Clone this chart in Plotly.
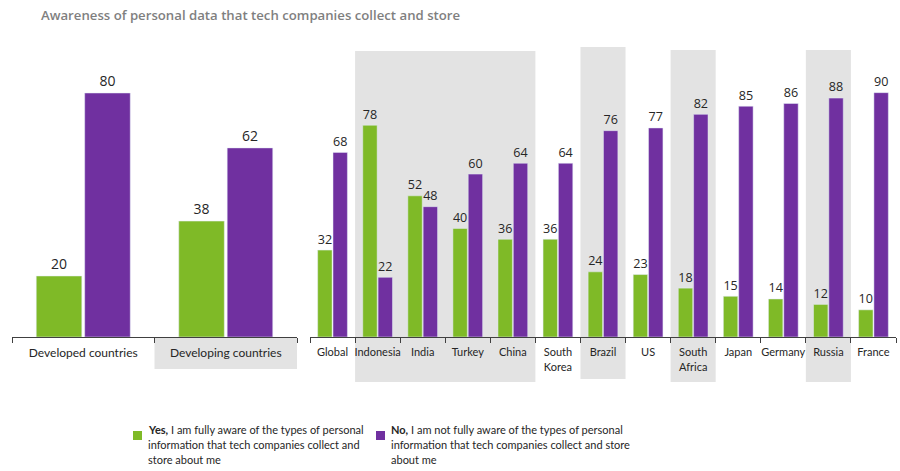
import plotly.graph_objects as go

# ---- data ----
group_cats = ["Developed countries", "Developing countries"]
group_yes = [20, 38]
group_no = [80, 62]

country_cats = ["Global", "Indonesia", "India", "Turkey", "China", "South<br>Korea",
                "Brazil", "US", "South<br>Africa", "Japan", "Germany", "Russia", "France"]
country_yes = [32, 78, 52, 40, 36, 36, 24, 23, 18, 15, 14, 12, 10]
country_no = [68, 22, 48, 60, 64, 64, 76, 77, 82, 85, 86, 88, 90]

title_text = "Awareness of personal data that tech companies collect and store"
yes_lines = ["<b>Yes,</b> I am fully aware of the types of personal",
             "information that tech companies collect and",
             "store about me"]
no_lines = ["<b>No,</b> I am not fully aware of the types of personal",
            "information that tech companies collect and store",
            "about me"]

GREEN = "#7fba27"
PURPLE = "#7030a0"
GRAY = "#e3e3e3"
TXT = "#262626"
FONT = "Open Sans"
FONT2 = "Lato"

W, H = 900, 471

def px_y(y):
    return (H - y) / H

def px_x(x):
    return x / W

fig = go.Figure()

bar_common = dict(texttemplate="%{y}", textposition="outside", cliponaxis=False,
                  textfont=dict(size=14, color=TXT, family=FONT), showlegend=False,
                  hoverinfo="skip")

fig.add_trace(go.Bar(x=group_cats, y=group_yes, marker_color=GREEN, xaxis="x", yaxis="y", **bar_common))
fig.add_trace(go.Bar(x=group_cats, y=group_no, marker_color=PURPLE, xaxis="x", yaxis="y", **bar_common))
fig.add_trace(go.Bar(x=country_cats, y=country_yes, marker_color=GREEN, xaxis="x2", yaxis="y2", **bar_common))
fig.add_trace(go.Bar(x=country_cats, y=country_no, marker_color=PURPLE, xaxis="x2", yaxis="y2", **bar_common))

ydom = [px_y(337), px_y(40)]
xcommon = dict(type="category", showline=True, linecolor="#404040", linewidth=1,
               ticks="outside", ticklen=5, tickcolor="#404040", tickson="boundaries",
               showgrid=False, zeroline=False, fixedrange=True, tickangle=0,
               ticklabelstandoff=5)

fig.update_layout(
    width=W, height=H,
    margin=dict(l=0, r=0, t=0, b=0),
    paper_bgcolor="white",
    plot_bgcolor="rgba(0,0,0,0)",
    barmode="group", bargap=0.32, bargroupgap=0.06,
    font=dict(family=FONT, color=TXT),
    xaxis=dict(domain=[px_x(12), px_x(297)], tickfont=dict(size=12, color=TXT, family=FONT2), **xcommon),
    xaxis2=dict(domain=[px_x(310), px_x(896)], tickfont=dict(size=11, color=TXT, family=FONT2), **xcommon),
    yaxis=dict(domain=ydom, range=[0, 297 / 3.05], visible=False, anchor="x", fixedrange=True),
    yaxis2=dict(domain=ydom, range=[0, 297 / 2.715], visible=False, anchor="x2", fixedrange=True),
)
fig.layout.xaxis.anchor = "y"
fig.layout.xaxis2.anchor = "y2"

shapes = []
# developing countries label box
shapes.append(dict(type="rect", xref="x", yref="paper", x0=0.5, x1=1.5,
                   y0=px_y(369), y1=px_y(337), fillcolor=GRAY, line_width=0, layer="below"))
# highlighted country bands
for (a, b, top, bot) in [(1, 4, 51, 382), (6, 6, 47, 379), (8, 8, 50, 382), (11, 11, 50, 382)]:
    shapes.append(dict(type="rect", xref="x2", yref="paper", x0=a - 0.5, x1=b + 0.5,
                       y0=px_y(bot), y1=px_y(top), fillcolor=GRAY, line_width=0, layer="below"))
# legend squares
shapes.append(dict(type="rect", xref="paper", yref="paper", x0=px_x(133), x1=px_x(142),
                   y0=px_y(440), y1=px_y(431), fillcolor=GREEN, line_width=0))
shapes.append(dict(type="rect", xref="paper", yref="paper", x0=px_x(376), x1=px_x(385),
                   y0=px_y(440), y1=px_y(431), fillcolor=PURPLE, line_width=0))
fig.update_layout(shapes=shapes)

annotations = [
    dict(text=title_text, xref="paper", yref="paper", x=px_x(39), y=px_y(15),
         xanchor="left", yanchor="middle", showarrow=False,
         font=dict(size=13.2, color="#7f7f7f", family=FONT, weight=600)),
]
for lines, x0 in [(yes_lines, 146), (no_lines, 389)]:
    for i, line in enumerate(lines):
        annotations.append(dict(text=line, xref="paper", yref="paper", x=px_x(x0), y=px_y(429 + 15 * i),
                                xanchor="left", yanchor="middle", align="left", showarrow=False,
                                font=dict(size=11, color=TXT, family=FONT2)))
fig.update_layout(annotations=annotations)

fig.write_html("out.html", config={"displayModeBar": False},
               post_script="document.body.style.margin='0px';document.body.style.overflow='hidden';")
